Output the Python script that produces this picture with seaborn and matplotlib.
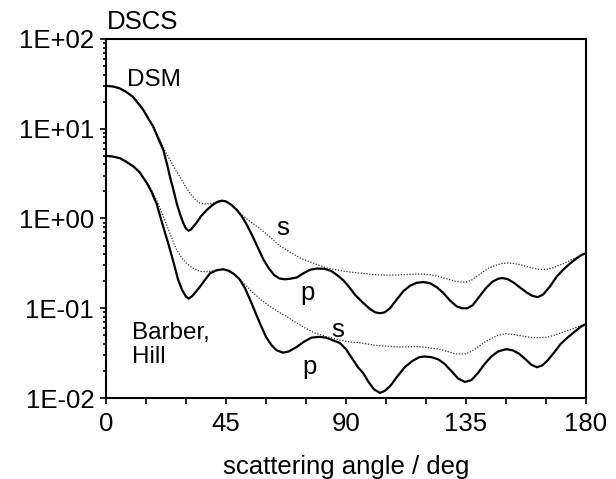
import numpy as np
import matplotlib
matplotlib.use("Agg")
import matplotlib.pyplot as plt
import matplotlib.ticker as mticker
import seaborn as sns

# DSM model, p polarisation
dsm_p_angle = [0, 2.5, 5, 7.5, 10, 12.5, 14, 16, 17.75, 19.5, 21.5, 23, 24, 25.25, 26.5,
               27.75, 29, 30, 31, 32, 33, 34, 35.5, 37.75, 40, 42, 43.5, 45, 47, 49, 51,
               53, 55, 57, 59, 61, 63, 65, 67, 69, 71.5, 74, 76.5, 79, 82, 84.5, 87, 89,
               91, 93.5, 96.4, 99, 101, 102.7, 104.5, 106.5, 109, 111.5, 114, 116.5, 119,
               121.5, 124, 126.5, 129, 131.5, 133.5, 135.5, 137.5, 140, 142.5, 145, 147,
               148.5, 150.5, 153, 155.5, 158, 160, 162, 164, 166.5, 169, 171.5, 174, 176.5,
               178.5, 180]
dsm_p_dscs = [30, 29.6, 28.3, 25.8, 22.8, 18.5, 16.2, 12.8, 10.5, 7.9, 5.8, 3.9, 2.9, 2.1,
              1.48, 1.12, 0.885, 0.77, 0.73, 0.76, 0.83, 0.9, 1.05, 1.24, 1.42, 1.54, 1.58,
              1.55, 1.42, 1.25, 1.05, 0.83, 0.63, 0.47, 0.35, 0.28, 0.235, 0.215, 0.21,
              0.213, 0.22, 0.245, 0.268, 0.277, 0.275, 0.26, 0.23, 0.205, 0.175, 0.14,
              0.115, 0.098, 0.09, 0.088, 0.09, 0.1, 0.125, 0.155, 0.178, 0.192, 0.196,
              0.19, 0.172, 0.148, 0.122, 0.105, 0.1, 0.1, 0.108, 0.135, 0.168, 0.198,
              0.213, 0.217, 0.212, 0.192, 0.168, 0.148, 0.137, 0.133, 0.143, 0.175, 0.225,
              0.27, 0.315, 0.36, 0.395, 0.41]

# DSM model, s polarisation
dsm_s_angle = [0, 2.5, 5, 7.5, 10, 12.5, 15, 17.5, 20.25, 22, 24, 26, 27.75, 29.5, 31.5,
               33.5, 35.25, 37.5, 40, 42, 43.5, 45, 47, 49, 51, 53, 55, 58, 61.5, 65, 68,
               71, 74, 77.6, 80, 83, 86, 89, 92, 96, 100, 104, 108, 112, 116, 119, 122,
               125, 128, 131, 133, 135, 137, 139, 141, 143.5, 146, 148.5, 150.5, 153,
               155.5, 158, 160.5, 163, 165.5, 168, 171, 174, 177, 180]
dsm_s_dscs = [30, 29.6, 28.3, 26, 23, 19, 14.5, 10.8, 7.5, 5.8, 4.5, 3.5, 2.9, 2.35, 1.9,
              1.62, 1.48, 1.45, 1.48, 1.55, 1.58, 1.55, 1.42, 1.25, 1.1, 0.98, 0.88, 0.76,
              0.62, 0.5, 0.44, 0.39, 0.35, 0.32, 0.3, 0.28, 0.27, 0.26, 0.252, 0.245,
              0.238, 0.234, 0.234, 0.237, 0.24, 0.24, 0.235, 0.225, 0.212, 0.2, 0.196,
              0.196, 0.205, 0.225, 0.25, 0.28, 0.3, 0.315, 0.32, 0.315, 0.305, 0.29, 0.278,
              0.27, 0.272, 0.285, 0.31, 0.34, 0.375, 0.41]

# Barber-Hill, p polarisation
bh_p_angle = [0, 2.5, 5.25, 7.5, 10.25, 12.5, 15.25, 17, 19, 21.5, 23.4, 25.25, 27, 28.5,
              30, 31, 32.5, 35.25, 37, 39, 41.5, 43.9, 46, 48, 50, 52, 54, 56, 58, 60, 62,
              64, 66.4, 68.5, 71.5, 74, 77, 80, 82.5, 85, 87.7, 90, 92.5, 94.5, 96.4, 98.5,
              100.5, 102.7, 104.5, 106.5, 109, 112, 115, 117.5, 119.5, 122, 124.5, 127,
              129.5, 132, 134.6, 137, 139.5, 142, 144.5, 147, 150, 152.5, 155, 157.6,
              159.5, 161.6, 163.5, 165.5, 168, 170.5, 173, 175.5, 178, 180]
bh_p_dscs = [5.0, 4.9, 4.7, 4.3, 3.8, 3.3, 2.5, 2.0, 1.45, 0.8, 0.52, 0.33, 0.21, 0.16,
             0.135, 0.128, 0.138, 0.174, 0.205, 0.245, 0.265, 0.272, 0.262, 0.24, 0.212,
             0.17, 0.125, 0.09, 0.065, 0.048, 0.039, 0.034, 0.032, 0.033, 0.037, 0.042,
             0.047, 0.048, 0.047, 0.044, 0.041, 0.035, 0.027, 0.022, 0.019, 0.015, 0.0125,
             0.0114, 0.012, 0.0135, 0.017, 0.022, 0.026, 0.0285, 0.029, 0.0285, 0.027,
             0.024, 0.02, 0.0165, 0.0151, 0.0158, 0.019, 0.024, 0.029, 0.033, 0.035,
             0.034, 0.031, 0.0265, 0.0235, 0.022, 0.023, 0.026, 0.032, 0.04, 0.047, 0.054,
             0.062, 0.067]

# Barber-Hill, s polarisation
bh_s_angle = [0, 2.5, 5.25, 7.5, 10.25, 12.5, 15.25, 17, 19, 21.5, 24, 26.5, 28.5, 30.25,
              32.5, 35.25, 37.5, 40, 43.9, 46, 48, 50, 52.5, 55, 58, 61.5, 65, 68, 71, 74,
              77.6, 83, 88, 92, 96, 100, 104, 110, 116, 119, 122, 125, 128, 131, 133, 135,
              137, 139.5, 142, 144.5, 147, 150, 153, 156, 160, 163, 166, 169, 172, 175,
              178, 180]
bh_s_dscs = [5.0, 4.9, 4.7, 4.35, 3.85, 3.35, 2.55, 2.1, 1.6, 1.05, 0.68, 0.445, 0.36,
             0.316, 0.28, 0.258, 0.255, 0.26, 0.272, 0.262, 0.24, 0.215, 0.18, 0.15, 0.125,
             0.105, 0.09, 0.08, 0.07, 0.062, 0.054, 0.048, 0.044, 0.042, 0.041, 0.039,
             0.038, 0.037, 0.0375, 0.037, 0.036, 0.035, 0.033, 0.031, 0.031, 0.031, 0.033,
             0.037, 0.042, 0.046, 0.05, 0.052, 0.051, 0.049, 0.047, 0.047, 0.048, 0.051,
             0.055, 0.059, 0.064, 0.067]

x_ticks = [0, 45, 90, 135, 180]
FS = 18.5

sns.set_style("ticks")
plt.rcParams["font.family"] = ["Liberation Sans", "DejaVu Sans"]
plt.rcParams["font.size"] = FS
plt.rcParams["text.color"] = "black"
plt.rcParams["axes.labelcolor"] = "black"
plt.rcParams["xtick.color"] = "black"
plt.rcParams["ytick.color"] = "black"

fig = plt.figure(figsize=(6.16, 4.79), dpi=100)
ax = fig.add_axes([0.1721, 0.1691, 0.9513 - 0.1721, 0.9186 - 0.1691])

dotted = dict(color="#333333", linewidth=0.9, linestyle=(0, (1, 1.3)))
solid = dict(color="black", linewidth=1.6)

sns.lineplot(x=dsm_s_angle, y=dsm_s_dscs, ax=ax, **dotted)
sns.lineplot(x=bh_s_angle, y=bh_s_dscs, ax=ax, **dotted)
sns.lineplot(x=dsm_p_angle, y=dsm_p_dscs, ax=ax, **solid)
sns.lineplot(x=bh_p_angle, y=bh_p_dscs, ax=ax, **solid)

ax.set_yscale("log")
ax.set_xlim(0, 180)
ax.set_ylim(1e-2, 1e2)
ax.set_xticks(x_ticks)
ax.xaxis.set_minor_locator(mticker.MultipleLocator(15))
ax.yaxis.set_major_locator(mticker.LogLocator(base=10, numticks=10))
ax.yaxis.set_minor_locator(mticker.LogLocator(base=10, subs=np.arange(2, 10), numticks=20))
ax.yaxis.set_minor_formatter(mticker.NullFormatter())
ax.yaxis.set_major_formatter(mticker.FuncFormatter(lambda v, p: f"{v:.0E}"))

ax.tick_params(axis="both", which="both", direction="out", width=1.2, colors="black",
               labelsize=FS, labelcolor="black", top=False, right=False)
ax.tick_params(axis="x", which="major", length=4, pad=6)
ax.tick_params(axis="x", which="minor", length=4)
ax.tick_params(axis="y", which="major", length=4.5, pad=4)
ax.tick_params(axis="y", which="minor", length=2.5)

for sp in ax.spines.values():
    sp.set_visible(True)
    sp.set_linewidth(1.5)
    sp.set_color("black")

ax.set_xlabel("scattering angle / deg", fontsize=FS, labelpad=14, color="black")
ax.set_ylabel("")

fig.text(107 / 616, 1 - 22 / 479, "DSCS", fontsize=FS, ha="left", va="center",
         color="black")
ax.text(17.8, 35, "DSM", fontsize=FS - 1, ha="center", va="center", color="black")
ax.text(9.75, 0.039, "Barber,\nHill", fontsize=FS - 1, ha="left", va="center",
        linespacing=1.1, color="black")
ax.text(66.4, 0.78, "s", fontsize=FS, ha="center", va="center", color="black")
ax.text(75.4, 0.148, "p", fontsize=FS, ha="center", va="center", color="black")
ax.text(87, 0.057, "s", fontsize=FS, ha="center", va="center", color="black")
ax.text(76.5, 0.022, "p", fontsize=FS, ha="center", va="center", color="black")

fig.savefig("out.png", dpi=100)
